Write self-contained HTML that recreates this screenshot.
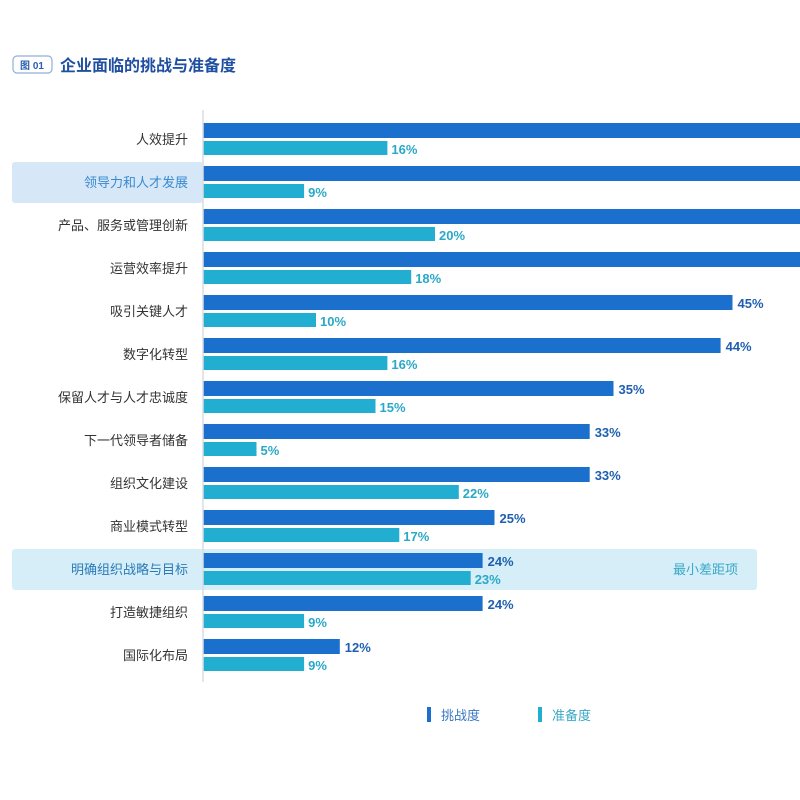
<!DOCTYPE html>
<html><head><meta charset="utf-8"><style>
body{margin:0;background:#fff;font-family:"Liberation Sans","Noto Sans CJK SC",sans-serif}
#c{position:relative;width:800px;height:800px;overflow:hidden}
</style></head><body>
<div id="c">
<svg width="800" height="800">
<g>
<rect x="13" y="56" width="39" height="17" rx="4" fill="#fff" stroke="#8fb0d8" stroke-width="1.2"/>
<text x="32" y="69" font-size="10" fill="#2a60b0" text-anchor="middle" font-weight="bold">图 01</text>
<text x="60" y="71" font-size="16" font-weight="bold" fill="#1f4fa0" font-family="Liberation Sans, Noto Sans CJK SC, sans-serif">企业面临的挑战与准备度</text>
</g>
<g id="bands"></g>
<g id="bars"></g>
<line x1="203" y1="110" x2="203" y2="682" stroke="#d8dde3" stroke-width="1.5"/>
<g>
<rect x="427" y="707" width="4" height="15" fill="#1a70cc"/>
<text x="441" y="720" font-size="13" fill="#3a78c0">挑战度</text>
<rect x="538" y="707" width="4" height="15" fill="#22aed0"/>
<text x="552" y="720" font-size="13" fill="#3aa8c8">准备度</text>
</g>
</svg>
</div>
<script>
const categories=["人效提升","领导力和人才发展","产品、服务或管理创新","运营效率提升","吸引关键人才","数字化转型","保留人才与人才忠诚度","下一代领导者储备","组织文化建设","商业模式转型","明确组织战略与目标","打造敏捷组织","国际化布局"];
const challenge=[55,54,52,52,45,44,35,33,33,25,24,24,12];
const readiness=[16,9,20,18,10,16,15,5,22,17,23,9,9];
const NS="http://www.w3.org/2000/svg";
const x=v=>197+11.9*v, x0=203, top0=123, pitch=43;
function mk(tag,attrs,parent){const e=document.createElementNS(NS,tag);for(const k in attrs)e.setAttribute(k,attrs[k]);parent.appendChild(e);return e;}
const bars=document.getElementById('bars'),bands=document.getElementById('bands');
let b=mk('rect',{x:12,y:top0+pitch-4,width:191,height:41,rx:3,fill:"#d6e7f7"},bands);


b=mk('rect',{x:12,y:top0+10*pitch-4,width:745,height:41,rx:3,fill:"#d5eef7"},bands);


let t=mk('text',{x:738,y:top0+10*pitch+21,"font-size":13,fill:"#3aa8c8","text-anchor":"end"},bands);t.textContent="最小差距项";


categories.forEach((c,i)=>{
 const y=top0+i*pitch;
 let l=mk('text',{x:188,y:y+21,"font-size":13,fill:i==1?"#3a8ad0":(i==10?"#2a7ab8":"#333"),"text-anchor":"end"},bars);l.textContent=c;
 
 
 const w1=Math.min(x(challenge[i]),810)-x0;
 let r=mk('rect',{x:x0,y:y,width:w1,height:15,fill:"#1a70cc"},bars);
 
 
 if(x(challenge[i])<780){let v=mk('text',{x:x(challenge[i])+5,y:y+13,"font-size":13,"font-weight":"bold",fill:"#1f5fb0"},bars);v.textContent=challenge[i]+"%";
 
 }
 let r2=mk('rect',{x:x0,y:y+18,width:x(readiness[i])-x0,height:14,fill:"#22aed0"},bars);
 
 
 let v2=mk('text',{x:x(readiness[i])+4,y:y+31,"font-size":13,"font-weight":"bold",fill:"#2aa8c8"},bars);v2.textContent=readiness[i]+"%";
 
 
});
</script>
</body></html>
